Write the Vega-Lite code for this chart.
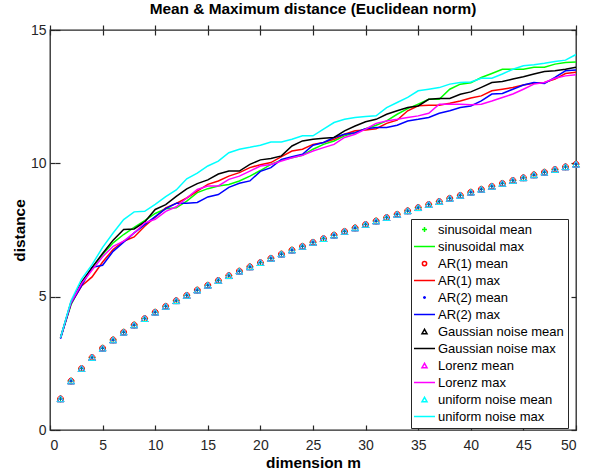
{
"$schema": "https://vega.github.io/schema/vega-lite/v6.json",
"width": 526, "height": 400,
"autosize": {"type": "none"},
"padding": {"left": 50, "top": 30, "right": 21, "bottom": 40},
"background": "white",
"title": {"text": "Mean & Maximum distance (Euclidean norm)", "font": "Liberation Sans", "fontSize": 15.4, "fontWeight": "bold", "color": "#000000", "anchor": "middle", "offset": 6},
"datasets": {
"maxd": [
{"m":1,"s":"sinusoidal max","d":3.46},{"m":2,"s":"sinusoidal max","d":4.7},{"m":3,"s":"sinusoidal max","d":5.45},{"m":4,"s":"sinusoidal max","d":6.08},{"m":5,"s":"sinusoidal max","d":6.58},{"m":6,"s":"sinusoidal max","d":7.02},{"m":7,"s":"sinusoidal max","d":7.33},{"m":8,"s":"sinusoidal max","d":7.6},{"m":9,"s":"sinusoidal max","d":7.85},{"m":10,"s":"sinusoidal max","d":8.12},
{"m":11,"s":"sinusoidal max","d":8.3},{"m":12,"s":"sinusoidal max","d":8.33},{"m":13,"s":"sinusoidal max","d":8.58},{"m":14,"s":"sinusoidal max","d":8.9},{"m":15,"s":"sinusoidal max","d":9.05},{"m":16,"s":"sinusoidal max","d":9.15},{"m":17,"s":"sinusoidal max","d":9.21},{"m":18,"s":"sinusoidal max","d":9.34},{"m":19,"s":"sinusoidal max","d":9.52},{"m":20,"s":"sinusoidal max","d":9.73},
{"m":21,"s":"sinusoidal max","d":9.96},{"m":22,"s":"sinusoidal max","d":10.12},{"m":23,"s":"sinusoidal max","d":10.21},{"m":24,"s":"sinusoidal max","d":10.3},{"m":25,"s":"sinusoidal max","d":10.53},{"m":26,"s":"sinusoidal max","d":10.71},{"m":27,"s":"sinusoidal max","d":10.84},{"m":28,"s":"sinusoidal max","d":11.03},{"m":29,"s":"sinusoidal max","d":11.15},{"m":30,"s":"sinusoidal max","d":11.3},
{"m":31,"s":"sinusoidal max","d":11.43},{"m":32,"s":"sinusoidal max","d":11.59},{"m":33,"s":"sinusoidal max","d":11.84},{"m":34,"s":"sinusoidal max","d":12.05},{"m":35,"s":"sinusoidal max","d":12.22},{"m":36,"s":"sinusoidal max","d":12.4},{"m":37,"s":"sinusoidal max","d":12.4},{"m":38,"s":"sinusoidal max","d":12.78},{"m":39,"s":"sinusoidal max","d":12.97},{"m":40,"s":"sinusoidal max","d":13.02},
{"m":41,"s":"sinusoidal max","d":13.22},{"m":42,"s":"sinusoidal max","d":13.37},{"m":43,"s":"sinusoidal max","d":13.53},{"m":44,"s":"sinusoidal max","d":13.53},{"m":45,"s":"sinusoidal max","d":13.53},{"m":46,"s":"sinusoidal max","d":13.6},{"m":47,"s":"sinusoidal max","d":13.6},{"m":48,"s":"sinusoidal max","d":13.72},{"m":49,"s":"sinusoidal max","d":13.78},{"m":50,"s":"sinusoidal max","d":13.8},
{"m":1,"s":"AR(1) max","d":3.46},{"m":2,"s":"AR(1) max","d":4.75},{"m":3,"s":"AR(1) max","d":5.4},{"m":4,"s":"AR(1) max","d":5.74},{"m":5,"s":"AR(1) max","d":6.3},{"m":6,"s":"AR(1) max","d":6.77},{"m":7,"s":"AR(1) max","d":7.08},{"m":8,"s":"AR(1) max","d":7.24},{"m":9,"s":"AR(1) max","d":7.64},{"m":10,"s":"AR(1) max","d":7.98},
{"m":11,"s":"AR(1) max","d":8.33},{"m":12,"s":"AR(1) max","d":8.5},{"m":13,"s":"AR(1) max","d":8.7},{"m":14,"s":"AR(1) max","d":8.96},{"m":15,"s":"AR(1) max","d":9.21},{"m":16,"s":"AR(1) max","d":9.34},{"m":17,"s":"AR(1) max","d":9.52},{"m":18,"s":"AR(1) max","d":9.65},{"m":19,"s":"AR(1) max","d":9.84},{"m":20,"s":"AR(1) max","d":9.95},
{"m":21,"s":"AR(1) max","d":10.03},{"m":22,"s":"AR(1) max","d":10.25},{"m":23,"s":"AR(1) max","d":10.46},{"m":24,"s":"AR(1) max","d":10.53},{"m":25,"s":"AR(1) max","d":10.71},{"m":26,"s":"AR(1) max","d":10.78},{"m":27,"s":"AR(1) max","d":10.9},{"m":28,"s":"AR(1) max","d":11.09},{"m":29,"s":"AR(1) max","d":11.22},{"m":30,"s":"AR(1) max","d":11.25},
{"m":31,"s":"AR(1) max","d":11.3},{"m":32,"s":"AR(1) max","d":11.5},{"m":33,"s":"AR(1) max","d":11.62},{"m":34,"s":"AR(1) max","d":11.97},{"m":35,"s":"AR(1) max","d":12.16},{"m":36,"s":"AR(1) max","d":12.18},{"m":37,"s":"AR(1) max","d":12.18},{"m":38,"s":"AR(1) max","d":12.25},{"m":39,"s":"AR(1) max","d":12.34},{"m":40,"s":"AR(1) max","d":12.45},
{"m":41,"s":"AR(1) max","d":12.53},{"m":42,"s":"AR(1) max","d":12.72},{"m":43,"s":"AR(1) max","d":12.78},{"m":44,"s":"AR(1) max","d":12.84},{"m":45,"s":"AR(1) max","d":12.94},{"m":46,"s":"AR(1) max","d":13.0},{"m":47,"s":"AR(1) max","d":13.03},{"m":48,"s":"AR(1) max","d":13.16},{"m":49,"s":"AR(1) max","d":13.37},{"m":50,"s":"AR(1) max","d":13.42},
{"m":1,"s":"AR(2) max","d":3.42},{"m":2,"s":"AR(2) max","d":4.75},{"m":3,"s":"AR(2) max","d":5.41},{"m":4,"s":"AR(2) max","d":6.1},{"m":5,"s":"AR(2) max","d":6.18},{"m":6,"s":"AR(2) max","d":6.7},{"m":7,"s":"AR(2) max","d":7.04},{"m":8,"s":"AR(2) max","d":7.39},{"m":9,"s":"AR(2) max","d":7.7},{"m":10,"s":"AR(2) max","d":8.0},
{"m":11,"s":"AR(2) max","d":8.3},{"m":12,"s":"AR(2) max","d":8.5},{"m":13,"s":"AR(2) max","d":8.5},{"m":14,"s":"AR(2) max","d":8.53},{"m":15,"s":"AR(2) max","d":8.74},{"m":16,"s":"AR(2) max","d":8.83},{"m":17,"s":"AR(2) max","d":9.1},{"m":18,"s":"AR(2) max","d":9.25},{"m":19,"s":"AR(2) max","d":9.34},{"m":20,"s":"AR(2) max","d":9.7},
{"m":21,"s":"AR(2) max","d":9.84},{"m":22,"s":"AR(2) max","d":10.15},{"m":23,"s":"AR(2) max","d":10.25},{"m":24,"s":"AR(2) max","d":10.34},{"m":25,"s":"AR(2) max","d":10.68},{"m":26,"s":"AR(2) max","d":10.78},{"m":27,"s":"AR(2) max","d":10.97},{"m":28,"s":"AR(2) max","d":11.09},{"m":29,"s":"AR(2) max","d":11.15},{"m":30,"s":"AR(2) max","d":11.3},
{"m":31,"s":"AR(2) max","d":11.34},{"m":32,"s":"AR(2) max","d":11.34},{"m":33,"s":"AR(2) max","d":11.43},{"m":34,"s":"AR(2) max","d":11.59},{"m":35,"s":"AR(2) max","d":11.65},{"m":36,"s":"AR(2) max","d":11.72},{"m":37,"s":"AR(2) max","d":11.88},{"m":38,"s":"AR(2) max","d":11.97},{"m":39,"s":"AR(2) max","d":12.09},{"m":40,"s":"AR(2) max","d":12.15},
{"m":41,"s":"AR(2) max","d":12.34},{"m":42,"s":"AR(2) max","d":12.6},{"m":43,"s":"AR(2) max","d":12.62},{"m":44,"s":"AR(2) max","d":12.78},{"m":45,"s":"AR(2) max","d":12.94},{"m":46,"s":"AR(2) max","d":13.03},{"m":47,"s":"AR(2) max","d":12.99},{"m":48,"s":"AR(2) max","d":13.22},{"m":49,"s":"AR(2) max","d":13.47},{"m":50,"s":"AR(2) max","d":13.5},
{"m":1,"s":"Gaussian noise max","d":3.46},{"m":2,"s":"Gaussian noise max","d":4.8},{"m":3,"s":"Gaussian noise max","d":5.54},{"m":4,"s":"Gaussian noise max","d":6.1},{"m":5,"s":"Gaussian noise max","d":6.62},{"m":6,"s":"Gaussian noise max","d":7.12},{"m":7,"s":"Gaussian noise max","d":7.52},{"m":8,"s":"Gaussian noise max","d":7.54},{"m":9,"s":"Gaussian noise max","d":7.8},{"m":10,"s":"Gaussian noise max","d":8.27},
{"m":11,"s":"Gaussian noise max","d":8.45},{"m":12,"s":"Gaussian noise max","d":8.76},{"m":13,"s":"Gaussian noise max","d":9.04},{"m":14,"s":"Gaussian noise max","d":9.24},{"m":15,"s":"Gaussian noise max","d":9.38},{"m":16,"s":"Gaussian noise max","d":9.6},{"m":17,"s":"Gaussian noise max","d":9.71},{"m":18,"s":"Gaussian noise max","d":9.71},{"m":19,"s":"Gaussian noise max","d":9.96},{"m":20,"s":"Gaussian noise max","d":10.13},
{"m":21,"s":"Gaussian noise max","d":10.18},{"m":22,"s":"Gaussian noise max","d":10.28},{"m":23,"s":"Gaussian noise max","d":10.65},{"m":24,"s":"Gaussian noise max","d":10.84},{"m":25,"s":"Gaussian noise max","d":10.9},{"m":26,"s":"Gaussian noise max","d":10.94},{"m":27,"s":"Gaussian noise max","d":10.97},{"m":28,"s":"Gaussian noise max","d":11.22},{"m":29,"s":"Gaussian noise max","d":11.4},{"m":30,"s":"Gaussian noise max","d":11.56},
{"m":31,"s":"Gaussian noise max","d":11.65},{"m":32,"s":"Gaussian noise max","d":11.84},{"m":33,"s":"Gaussian noise max","d":11.97},{"m":34,"s":"Gaussian noise max","d":12.09},{"m":35,"s":"Gaussian noise max","d":12.15},{"m":36,"s":"Gaussian noise max","d":12.4},{"m":37,"s":"Gaussian noise max","d":12.43},{"m":38,"s":"Gaussian noise max","d":12.43},{"m":39,"s":"Gaussian noise max","d":12.59},{"m":40,"s":"Gaussian noise max","d":12.68},
{"m":41,"s":"Gaussian noise max","d":12.85},{"m":42,"s":"Gaussian noise max","d":13.03},{"m":43,"s":"Gaussian noise max","d":13.07},{"m":44,"s":"Gaussian noise max","d":13.16},{"m":45,"s":"Gaussian noise max","d":13.25},{"m":46,"s":"Gaussian noise max","d":13.35},{"m":47,"s":"Gaussian noise max","d":13.44},{"m":48,"s":"Gaussian noise max","d":13.47},{"m":49,"s":"Gaussian noise max","d":13.53},{"m":50,"s":"Gaussian noise max","d":13.6},
{"m":1,"s":"Lorenz max","d":3.46},{"m":2,"s":"Lorenz max","d":4.78},{"m":3,"s":"Lorenz max","d":5.49},{"m":4,"s":"Lorenz max","d":6.0},{"m":5,"s":"Lorenz max","d":6.5},{"m":6,"s":"Lorenz max","d":6.89},{"m":7,"s":"Lorenz max","d":7.08},{"m":8,"s":"Lorenz max","d":7.39},{"m":9,"s":"Lorenz max","d":7.77},{"m":10,"s":"Lorenz max","d":7.9},
{"m":11,"s":"Lorenz max","d":8.2},{"m":12,"s":"Lorenz max","d":8.37},{"m":13,"s":"Lorenz max","d":8.7},{"m":14,"s":"Lorenz max","d":9.02},{"m":15,"s":"Lorenz max","d":9.15},{"m":16,"s":"Lorenz max","d":9.15},{"m":17,"s":"Lorenz max","d":9.4},{"m":18,"s":"Lorenz max","d":9.52},{"m":19,"s":"Lorenz max","d":9.71},{"m":20,"s":"Lorenz max","d":9.9},
{"m":21,"s":"Lorenz max","d":9.96},{"m":22,"s":"Lorenz max","d":10.09},{"m":23,"s":"Lorenz max","d":10.21},{"m":24,"s":"Lorenz max","d":10.3},{"m":25,"s":"Lorenz max","d":10.46},{"m":26,"s":"Lorenz max","d":10.59},{"m":27,"s":"Lorenz max","d":10.71},{"m":28,"s":"Lorenz max","d":10.97},{"m":29,"s":"Lorenz max","d":11.09},{"m":30,"s":"Lorenz max","d":11.28},
{"m":31,"s":"Lorenz max","d":11.5},{"m":32,"s":"Lorenz max","d":11.59},{"m":33,"s":"Lorenz max","d":11.65},{"m":34,"s":"Lorenz max","d":11.72},{"m":35,"s":"Lorenz max","d":11.78},{"m":36,"s":"Lorenz max","d":11.88},{"m":37,"s":"Lorenz max","d":12.22},{"m":38,"s":"Lorenz max","d":12.22},{"m":39,"s":"Lorenz max","d":12.22},{"m":40,"s":"Lorenz max","d":12.2},
{"m":41,"s":"Lorenz max","d":12.22},{"m":42,"s":"Lorenz max","d":12.34},{"m":43,"s":"Lorenz max","d":12.47},{"m":44,"s":"Lorenz max","d":12.6},{"m":45,"s":"Lorenz max","d":12.78},{"m":46,"s":"Lorenz max","d":12.97},{"m":47,"s":"Lorenz max","d":13.03},{"m":48,"s":"Lorenz max","d":13.19},{"m":49,"s":"Lorenz max","d":13.28},{"m":50,"s":"Lorenz max","d":13.32},
{"m":1,"s":"uniform noise max","d":3.46},{"m":2,"s":"uniform noise max","d":4.85},{"m":3,"s":"uniform noise max","d":5.66},{"m":4,"s":"uniform noise max","d":6.2},{"m":5,"s":"uniform noise max","d":6.85},{"m":6,"s":"uniform noise max","d":7.39},{"m":7,"s":"uniform noise max","d":7.89},{"m":8,"s":"uniform noise max","d":8.18},{"m":9,"s":"uniform noise max","d":8.2},{"m":10,"s":"uniform noise max","d":8.46},
{"m":11,"s":"uniform noise max","d":8.75},{"m":12,"s":"uniform noise max","d":9.0},{"m":13,"s":"uniform noise max","d":9.42},{"m":14,"s":"uniform noise max","d":9.63},{"m":15,"s":"uniform noise max","d":9.9},{"m":16,"s":"uniform noise max","d":10.08},{"m":17,"s":"uniform noise max","d":10.4},{"m":18,"s":"uniform noise max","d":10.53},{"m":19,"s":"uniform noise max","d":10.6},{"m":20,"s":"uniform noise max","d":10.68},
{"m":21,"s":"uniform noise max","d":10.8},{"m":22,"s":"uniform noise max","d":10.8},{"m":23,"s":"uniform noise max","d":10.9},{"m":24,"s":"uniform noise max","d":11.03},{"m":25,"s":"uniform noise max","d":11.03},{"m":26,"s":"uniform noise max","d":11.28},{"m":27,"s":"uniform noise max","d":11.53},{"m":28,"s":"uniform noise max","d":11.65},{"m":29,"s":"uniform noise max","d":11.72},{"m":30,"s":"uniform noise max","d":11.76},
{"m":31,"s":"uniform noise max","d":11.78},{"m":32,"s":"uniform noise max","d":12.09},{"m":33,"s":"uniform noise max","d":12.28},{"m":34,"s":"uniform noise max","d":12.47},{"m":35,"s":"uniform noise max","d":12.72},{"m":36,"s":"uniform noise max","d":12.78},{"m":37,"s":"uniform noise max","d":12.84},{"m":38,"s":"uniform noise max","d":12.97},{"m":39,"s":"uniform noise max","d":13.03},{"m":40,"s":"uniform noise max","d":13.05},
{"m":41,"s":"uniform noise max","d":13.19},{"m":42,"s":"uniform noise max","d":13.19},{"m":43,"s":"uniform noise max","d":13.35},{"m":44,"s":"uniform noise max","d":13.53},{"m":45,"s":"uniform noise max","d":13.66},{"m":46,"s":"uniform noise max","d":13.7},{"m":47,"s":"uniform noise max","d":13.75},{"m":48,"s":"uniform noise max","d":13.82},{"m":49,"s":"uniform noise max","d":13.87},{"m":50,"s":"uniform noise max","d":14.08}
],
"meand": [
{"m":1,"s":"sinusoidal mean","d":1.17},{"m":2,"s":"sinusoidal mean","d":1.84},{"m":3,"s":"sinusoidal mean","d":2.31},{"m":4,"s":"sinusoidal mean","d":2.72},{"m":5,"s":"sinusoidal mean","d":3.07},{"m":6,"s":"sinusoidal mean","d":3.38},{"m":7,"s":"sinusoidal mean","d":3.67},{"m":8,"s":"sinusoidal mean","d":3.94},{"m":9,"s":"sinusoidal mean","d":4.18},{"m":10,"s":"sinusoidal mean","d":4.42},
{"m":11,"s":"sinusoidal mean","d":4.64},{"m":12,"s":"sinusoidal mean","d":4.85},{"m":13,"s":"sinusoidal mean","d":5.05},{"m":14,"s":"sinusoidal mean","d":5.25},{"m":15,"s":"sinusoidal mean","d":5.43},{"m":16,"s":"sinusoidal mean","d":5.61},{"m":17,"s":"sinusoidal mean","d":5.79},{"m":18,"s":"sinusoidal mean","d":5.96},{"m":19,"s":"sinusoidal mean","d":6.12},{"m":20,"s":"sinusoidal mean","d":6.28},
{"m":21,"s":"sinusoidal mean","d":6.44},{"m":22,"s":"sinusoidal mean","d":6.6},{"m":23,"s":"sinusoidal mean","d":6.75},{"m":24,"s":"sinusoidal mean","d":6.89},{"m":25,"s":"sinusoidal mean","d":7.04},{"m":26,"s":"sinusoidal mean","d":7.18},{"m":27,"s":"sinusoidal mean","d":7.31},{"m":28,"s":"sinusoidal mean","d":7.45},{"m":29,"s":"sinusoidal mean","d":7.58},{"m":30,"s":"sinusoidal mean","d":7.71},
{"m":31,"s":"sinusoidal mean","d":7.84},{"m":32,"s":"sinusoidal mean","d":7.97},{"m":33,"s":"sinusoidal mean","d":8.09},{"m":34,"s":"sinusoidal mean","d":8.22},{"m":35,"s":"sinusoidal mean","d":8.34},{"m":36,"s":"sinusoidal mean","d":8.46},{"m":37,"s":"sinusoidal mean","d":8.57},{"m":38,"s":"sinusoidal mean","d":8.69},{"m":39,"s":"sinusoidal mean","d":8.8},{"m":40,"s":"sinusoidal mean","d":8.92},
{"m":41,"s":"sinusoidal mean","d":9.03},{"m":42,"s":"sinusoidal mean","d":9.14},{"m":43,"s":"sinusoidal mean","d":9.25},{"m":44,"s":"sinusoidal mean","d":9.36},{"m":45,"s":"sinusoidal mean","d":9.46},{"m":46,"s":"sinusoidal mean","d":9.57},{"m":47,"s":"sinusoidal mean","d":9.67},{"m":48,"s":"sinusoidal mean","d":9.77},{"m":49,"s":"sinusoidal mean","d":9.87},{"m":50,"s":"sinusoidal mean","d":9.97},
{"m":1,"s":"AR(1) mean","d":1.17},{"m":2,"s":"AR(1) mean","d":1.84},{"m":3,"s":"AR(1) mean","d":2.31},{"m":4,"s":"AR(1) mean","d":2.72},{"m":5,"s":"AR(1) mean","d":3.07},{"m":6,"s":"AR(1) mean","d":3.38},{"m":7,"s":"AR(1) mean","d":3.67},{"m":8,"s":"AR(1) mean","d":3.94},{"m":9,"s":"AR(1) mean","d":4.18},{"m":10,"s":"AR(1) mean","d":4.42},
{"m":11,"s":"AR(1) mean","d":4.64},{"m":12,"s":"AR(1) mean","d":4.85},{"m":13,"s":"AR(1) mean","d":5.05},{"m":14,"s":"AR(1) mean","d":5.25},{"m":15,"s":"AR(1) mean","d":5.43},{"m":16,"s":"AR(1) mean","d":5.61},{"m":17,"s":"AR(1) mean","d":5.79},{"m":18,"s":"AR(1) mean","d":5.96},{"m":19,"s":"AR(1) mean","d":6.12},{"m":20,"s":"AR(1) mean","d":6.28},
{"m":21,"s":"AR(1) mean","d":6.44},{"m":22,"s":"AR(1) mean","d":6.6},{"m":23,"s":"AR(1) mean","d":6.75},{"m":24,"s":"AR(1) mean","d":6.89},{"m":25,"s":"AR(1) mean","d":7.04},{"m":26,"s":"AR(1) mean","d":7.18},{"m":27,"s":"AR(1) mean","d":7.31},{"m":28,"s":"AR(1) mean","d":7.45},{"m":29,"s":"AR(1) mean","d":7.58},{"m":30,"s":"AR(1) mean","d":7.71},
{"m":31,"s":"AR(1) mean","d":7.84},{"m":32,"s":"AR(1) mean","d":7.97},{"m":33,"s":"AR(1) mean","d":8.09},{"m":34,"s":"AR(1) mean","d":8.22},{"m":35,"s":"AR(1) mean","d":8.34},{"m":36,"s":"AR(1) mean","d":8.46},{"m":37,"s":"AR(1) mean","d":8.57},{"m":38,"s":"AR(1) mean","d":8.69},{"m":39,"s":"AR(1) mean","d":8.8},{"m":40,"s":"AR(1) mean","d":8.92},
{"m":41,"s":"AR(1) mean","d":9.03},{"m":42,"s":"AR(1) mean","d":9.14},{"m":43,"s":"AR(1) mean","d":9.25},{"m":44,"s":"AR(1) mean","d":9.36},{"m":45,"s":"AR(1) mean","d":9.46},{"m":46,"s":"AR(1) mean","d":9.57},{"m":47,"s":"AR(1) mean","d":9.67},{"m":48,"s":"AR(1) mean","d":9.77},{"m":49,"s":"AR(1) mean","d":9.87},{"m":50,"s":"AR(1) mean","d":9.97},
{"m":1,"s":"AR(2) mean","d":1.17},{"m":2,"s":"AR(2) mean","d":1.84},{"m":3,"s":"AR(2) mean","d":2.31},{"m":4,"s":"AR(2) mean","d":2.72},{"m":5,"s":"AR(2) mean","d":3.07},{"m":6,"s":"AR(2) mean","d":3.38},{"m":7,"s":"AR(2) mean","d":3.67},{"m":8,"s":"AR(2) mean","d":3.94},{"m":9,"s":"AR(2) mean","d":4.18},{"m":10,"s":"AR(2) mean","d":4.42},
{"m":11,"s":"AR(2) mean","d":4.64},{"m":12,"s":"AR(2) mean","d":4.85},{"m":13,"s":"AR(2) mean","d":5.05},{"m":14,"s":"AR(2) mean","d":5.25},{"m":15,"s":"AR(2) mean","d":5.43},{"m":16,"s":"AR(2) mean","d":5.61},{"m":17,"s":"AR(2) mean","d":5.79},{"m":18,"s":"AR(2) mean","d":5.96},{"m":19,"s":"AR(2) mean","d":6.12},{"m":20,"s":"AR(2) mean","d":6.28},
{"m":21,"s":"AR(2) mean","d":6.44},{"m":22,"s":"AR(2) mean","d":6.6},{"m":23,"s":"AR(2) mean","d":6.75},{"m":24,"s":"AR(2) mean","d":6.89},{"m":25,"s":"AR(2) mean","d":7.04},{"m":26,"s":"AR(2) mean","d":7.18},{"m":27,"s":"AR(2) mean","d":7.31},{"m":28,"s":"AR(2) mean","d":7.45},{"m":29,"s":"AR(2) mean","d":7.58},{"m":30,"s":"AR(2) mean","d":7.71},
{"m":31,"s":"AR(2) mean","d":7.84},{"m":32,"s":"AR(2) mean","d":7.97},{"m":33,"s":"AR(2) mean","d":8.09},{"m":34,"s":"AR(2) mean","d":8.22},{"m":35,"s":"AR(2) mean","d":8.34},{"m":36,"s":"AR(2) mean","d":8.46},{"m":37,"s":"AR(2) mean","d":8.57},{"m":38,"s":"AR(2) mean","d":8.69},{"m":39,"s":"AR(2) mean","d":8.8},{"m":40,"s":"AR(2) mean","d":8.92},
{"m":41,"s":"AR(2) mean","d":9.03},{"m":42,"s":"AR(2) mean","d":9.14},{"m":43,"s":"AR(2) mean","d":9.25},{"m":44,"s":"AR(2) mean","d":9.36},{"m":45,"s":"AR(2) mean","d":9.46},{"m":46,"s":"AR(2) mean","d":9.57},{"m":47,"s":"AR(2) mean","d":9.67},{"m":48,"s":"AR(2) mean","d":9.77},{"m":49,"s":"AR(2) mean","d":9.87},{"m":50,"s":"AR(2) mean","d":9.97},
{"m":1,"s":"Gaussian noise mean","d":1.17},{"m":2,"s":"Gaussian noise mean","d":1.84},{"m":3,"s":"Gaussian noise mean","d":2.31},{"m":4,"s":"Gaussian noise mean","d":2.72},{"m":5,"s":"Gaussian noise mean","d":3.07},{"m":6,"s":"Gaussian noise mean","d":3.38},{"m":7,"s":"Gaussian noise mean","d":3.67},{"m":8,"s":"Gaussian noise mean","d":3.94},{"m":9,"s":"Gaussian noise mean","d":4.18},{"m":10,"s":"Gaussian noise mean","d":4.42},
{"m":11,"s":"Gaussian noise mean","d":4.64},{"m":12,"s":"Gaussian noise mean","d":4.85},{"m":13,"s":"Gaussian noise mean","d":5.05},{"m":14,"s":"Gaussian noise mean","d":5.25},{"m":15,"s":"Gaussian noise mean","d":5.43},{"m":16,"s":"Gaussian noise mean","d":5.61},{"m":17,"s":"Gaussian noise mean","d":5.79},{"m":18,"s":"Gaussian noise mean","d":5.96},{"m":19,"s":"Gaussian noise mean","d":6.12},{"m":20,"s":"Gaussian noise mean","d":6.28},
{"m":21,"s":"Gaussian noise mean","d":6.44},{"m":22,"s":"Gaussian noise mean","d":6.6},{"m":23,"s":"Gaussian noise mean","d":6.75},{"m":24,"s":"Gaussian noise mean","d":6.89},{"m":25,"s":"Gaussian noise mean","d":7.04},{"m":26,"s":"Gaussian noise mean","d":7.18},{"m":27,"s":"Gaussian noise mean","d":7.31},{"m":28,"s":"Gaussian noise mean","d":7.45},{"m":29,"s":"Gaussian noise mean","d":7.58},{"m":30,"s":"Gaussian noise mean","d":7.71},
{"m":31,"s":"Gaussian noise mean","d":7.84},{"m":32,"s":"Gaussian noise mean","d":7.97},{"m":33,"s":"Gaussian noise mean","d":8.09},{"m":34,"s":"Gaussian noise mean","d":8.22},{"m":35,"s":"Gaussian noise mean","d":8.34},{"m":36,"s":"Gaussian noise mean","d":8.46},{"m":37,"s":"Gaussian noise mean","d":8.57},{"m":38,"s":"Gaussian noise mean","d":8.69},{"m":39,"s":"Gaussian noise mean","d":8.8},{"m":40,"s":"Gaussian noise mean","d":8.92},
{"m":41,"s":"Gaussian noise mean","d":9.03},{"m":42,"s":"Gaussian noise mean","d":9.14},{"m":43,"s":"Gaussian noise mean","d":9.25},{"m":44,"s":"Gaussian noise mean","d":9.36},{"m":45,"s":"Gaussian noise mean","d":9.46},{"m":46,"s":"Gaussian noise mean","d":9.57},{"m":47,"s":"Gaussian noise mean","d":9.67},{"m":48,"s":"Gaussian noise mean","d":9.77},{"m":49,"s":"Gaussian noise mean","d":9.87},{"m":50,"s":"Gaussian noise mean","d":9.97},
{"m":1,"s":"Lorenz mean","d":1.17},{"m":2,"s":"Lorenz mean","d":1.84},{"m":3,"s":"Lorenz mean","d":2.31},{"m":4,"s":"Lorenz mean","d":2.72},{"m":5,"s":"Lorenz mean","d":3.07},{"m":6,"s":"Lorenz mean","d":3.38},{"m":7,"s":"Lorenz mean","d":3.67},{"m":8,"s":"Lorenz mean","d":3.94},{"m":9,"s":"Lorenz mean","d":4.18},{"m":10,"s":"Lorenz mean","d":4.42},
{"m":11,"s":"Lorenz mean","d":4.64},{"m":12,"s":"Lorenz mean","d":4.85},{"m":13,"s":"Lorenz mean","d":5.05},{"m":14,"s":"Lorenz mean","d":5.25},{"m":15,"s":"Lorenz mean","d":5.43},{"m":16,"s":"Lorenz mean","d":5.61},{"m":17,"s":"Lorenz mean","d":5.79},{"m":18,"s":"Lorenz mean","d":5.96},{"m":19,"s":"Lorenz mean","d":6.12},{"m":20,"s":"Lorenz mean","d":6.28},
{"m":21,"s":"Lorenz mean","d":6.44},{"m":22,"s":"Lorenz mean","d":6.6},{"m":23,"s":"Lorenz mean","d":6.75},{"m":24,"s":"Lorenz mean","d":6.89},{"m":25,"s":"Lorenz mean","d":7.04},{"m":26,"s":"Lorenz mean","d":7.18},{"m":27,"s":"Lorenz mean","d":7.31},{"m":28,"s":"Lorenz mean","d":7.45},{"m":29,"s":"Lorenz mean","d":7.58},{"m":30,"s":"Lorenz mean","d":7.71},
{"m":31,"s":"Lorenz mean","d":7.84},{"m":32,"s":"Lorenz mean","d":7.97},{"m":33,"s":"Lorenz mean","d":8.09},{"m":34,"s":"Lorenz mean","d":8.22},{"m":35,"s":"Lorenz mean","d":8.34},{"m":36,"s":"Lorenz mean","d":8.46},{"m":37,"s":"Lorenz mean","d":8.57},{"m":38,"s":"Lorenz mean","d":8.69},{"m":39,"s":"Lorenz mean","d":8.8},{"m":40,"s":"Lorenz mean","d":8.92},
{"m":41,"s":"Lorenz mean","d":9.03},{"m":42,"s":"Lorenz mean","d":9.14},{"m":43,"s":"Lorenz mean","d":9.25},{"m":44,"s":"Lorenz mean","d":9.36},{"m":45,"s":"Lorenz mean","d":9.46},{"m":46,"s":"Lorenz mean","d":9.57},{"m":47,"s":"Lorenz mean","d":9.67},{"m":48,"s":"Lorenz mean","d":9.77},{"m":49,"s":"Lorenz mean","d":9.87},{"m":50,"s":"Lorenz mean","d":9.97},
{"m":1,"s":"uniform noise mean","d":1.17},{"m":2,"s":"uniform noise mean","d":1.84},{"m":3,"s":"uniform noise mean","d":2.31},{"m":4,"s":"uniform noise mean","d":2.72},{"m":5,"s":"uniform noise mean","d":3.07},{"m":6,"s":"uniform noise mean","d":3.38},{"m":7,"s":"uniform noise mean","d":3.67},{"m":8,"s":"uniform noise mean","d":3.94},{"m":9,"s":"uniform noise mean","d":4.18},{"m":10,"s":"uniform noise mean","d":4.42},
{"m":11,"s":"uniform noise mean","d":4.64},{"m":12,"s":"uniform noise mean","d":4.85},{"m":13,"s":"uniform noise mean","d":5.05},{"m":14,"s":"uniform noise mean","d":5.25},{"m":15,"s":"uniform noise mean","d":5.43},{"m":16,"s":"uniform noise mean","d":5.61},{"m":17,"s":"uniform noise mean","d":5.79},{"m":18,"s":"uniform noise mean","d":5.96},{"m":19,"s":"uniform noise mean","d":6.12},{"m":20,"s":"uniform noise mean","d":6.28},
{"m":21,"s":"uniform noise mean","d":6.44},{"m":22,"s":"uniform noise mean","d":6.6},{"m":23,"s":"uniform noise mean","d":6.75},{"m":24,"s":"uniform noise mean","d":6.89},{"m":25,"s":"uniform noise mean","d":7.04},{"m":26,"s":"uniform noise mean","d":7.18},{"m":27,"s":"uniform noise mean","d":7.31},{"m":28,"s":"uniform noise mean","d":7.45},{"m":29,"s":"uniform noise mean","d":7.58},{"m":30,"s":"uniform noise mean","d":7.71},
{"m":31,"s":"uniform noise mean","d":7.84},{"m":32,"s":"uniform noise mean","d":7.97},{"m":33,"s":"uniform noise mean","d":8.09},{"m":34,"s":"uniform noise mean","d":8.22},{"m":35,"s":"uniform noise mean","d":8.34},{"m":36,"s":"uniform noise mean","d":8.46},{"m":37,"s":"uniform noise mean","d":8.57},{"m":38,"s":"uniform noise mean","d":8.69},{"m":39,"s":"uniform noise mean","d":8.8},{"m":40,"s":"uniform noise mean","d":8.92},
{"m":41,"s":"uniform noise mean","d":9.03},{"m":42,"s":"uniform noise mean","d":9.14},{"m":43,"s":"uniform noise mean","d":9.25},{"m":44,"s":"uniform noise mean","d":9.36},{"m":45,"s":"uniform noise mean","d":9.46},{"m":46,"s":"uniform noise mean","d":9.57},{"m":47,"s":"uniform noise mean","d":9.67},{"m":48,"s":"uniform noise mean","d":9.77},{"m":49,"s":"uniform noise mean","d":9.87},{"m":50,"s":"uniform noise mean","d":9.97}
]
},
"resolve": {"scale": {"x": "independent", "y": "independent"}},
"layer": [
{
"data": {"name": "meand"},
"mark": {"type": "point", "filled": false, "size": 46, "strokeWidth": 1, "opacity": 1},
"encoding": {
"x": {"field": "m", "type": "quantitative", "scale": {"domain": [0, 50], "nice": false, "zero": false}, "axis": {"orient": "bottom", "title": "dimension m", "values": [0,5,10,15,20,25,30,35,40,45,50], "labelPadding": 8}},
"y": {"field": "d", "type": "quantitative", "scale": {"domain": [0, 15], "nice": false, "zero": false}, "axis": {"orient": "left", "title": "distance", "values": [0,5,10,15], "labelPadding": 4}},
"color": {"field": "s", "type": "nominal",
"scale": {"domain": ["sinusoidal mean","sinusoidal max","AR(1) mean","AR(1) max","AR(2) mean","AR(2) max","Gaussian noise mean","Gaussian noise max","Lorenz mean","Lorenz max","uniform noise mean","uniform noise max"],
"range": ["#00ff00","#00ff00","#ff0000","#ff0000","#0000ff","#0000ff","#000000","#000000","#ff00ff","#ff00ff","#00ffff","#00ffff"]},
"legend": {"title": null, "encode": {"symbols": {"update": {"fill": {"value": "transparent"}}}}}},
"shape": {"field": "s", "type": "nominal",
"scale": {"domain": ["sinusoidal mean","sinusoidal max","AR(1) mean","AR(1) max","AR(2) mean","AR(2) max","Gaussian noise mean","Gaussian noise max","Lorenz mean","Lorenz max","uniform noise mean","uniform noise max"],
"range": ["M-1,0H1M0,-1V1","M-4.2,0H4.2","M-0.85,0A0.85,0.85,0,1,0,0.85,0A0.85,0.85,0,1,0,-0.85,0","M-4.2,0H4.2","M-0.3,0A0.3,0.3,0,1,0,0.3,0A0.3,0.3,0,1,0,-0.3,0","M-4.2,0H4.2","triangle-up","M-4.2,0H4.2","triangle-up","M-4.2,0H4.2","triangle-up","M-4.2,0H4.2"]},
"legend": {"title": null}}
}
},
{
"data": {"name": "maxd"},
"mark": {"type": "line", "strokeWidth": 1.5, "clip": true},
"encoding": {
"x": {"field": "m", "type": "quantitative", "scale": {"domain": [0, 50], "nice": false, "zero": false}, "axis": {"orient": "top", "title": null, "labels": false, "values": [0,5,10,15,20,25,30,35,40,45,50]}},
"y": {"field": "d", "type": "quantitative", "scale": {"domain": [0, 15], "nice": false, "zero": false}, "axis": {"orient": "right", "title": null, "labels": false, "values": [0,5,10,15]}},
"color": {"field": "s", "type": "nominal", "legend": {"title": null}}
}
}
],
"config": {
"view": {"stroke": "#262626", "strokeWidth": 1.3},
"font": "Liberation Sans",
"axis": {"zindex": 1, "grid": true, "gridColor": "#262626", "gridWidth": 1.2, "gridOpacity": 1, "gridDash": [5, 3000], "domain": false, "ticks": true, "tickSize": 5, "offset": -5, "tickColor": "#262626", "tickWidth": 1.2, "labelColor": "#262626", "labelFont": "Liberation Sans", "labelFontSize": 14, "titleFont": "Liberation Sans", "titleFontSize": 15.4, "titleFontWeight": "bold", "titleColor": "#000000", "titlePadding": 3},
"legend": {"orient": "none", "legendX": 361, "legendY": 189, "strokeColor": "#262626", "fillColor": "white", "padding": 4, "labelFont": "Liberation Sans", "labelFontSize": 13, "labelColor": "#000000", "symbolSize": 25, "symbolStrokeWidth": 1.5, "rowPadding": 3, "labelOffset": 7, "symbolOffset": 3}
}
}
